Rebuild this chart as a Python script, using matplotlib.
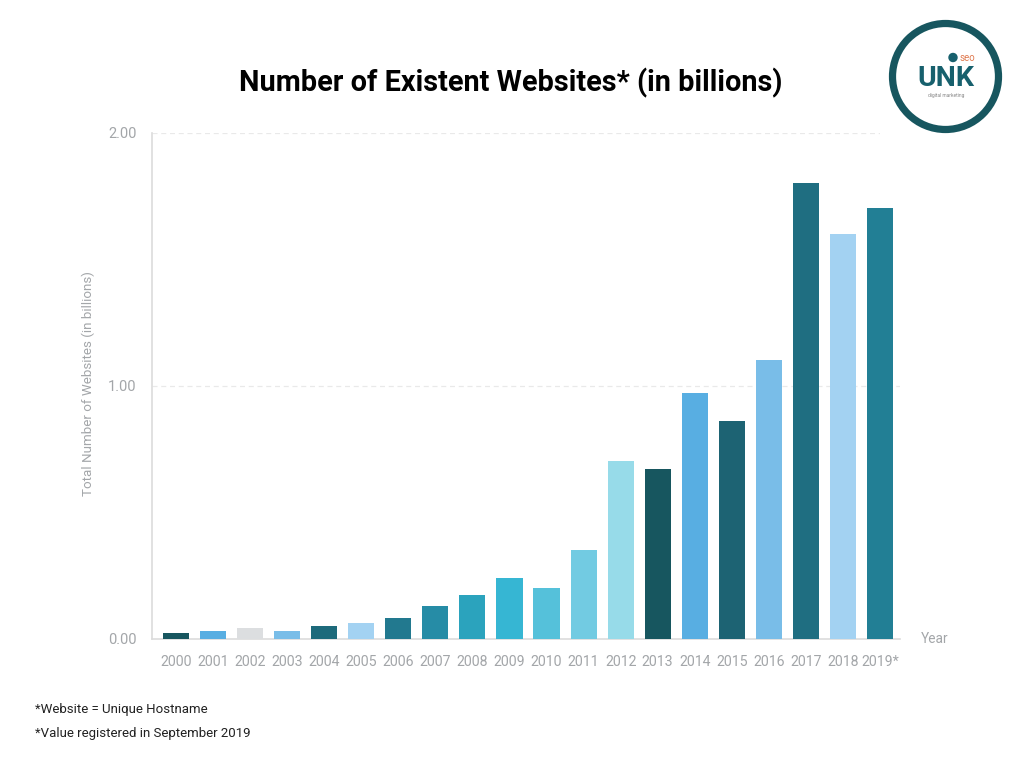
import matplotlib
matplotlib.use("Agg")
import matplotlib.pyplot as plt
from matplotlib.patches import Circle

years = ["2000","2001","2002","2003","2004","2005","2006","2007","2008","2009",
         "2010","2011","2012","2013","2014","2015","2016","2017","2018","2019*"]
values = [0.02,0.03,0.04,0.03,0.05,0.06,0.08,0.13,0.17,0.24,
          0.20,0.35,0.70,0.67,0.97,0.86,1.10,1.80,1.60,1.70]
colors = ["#17565f","#58aee2","#dcdee0","#79bde8","#1d6a7b","#a3d2f2","#22798f","#268ca6",
          "#2ba3bd","#36b6d3","#55c1da","#72cbe2","#97dbe9","#17565f","#58aee2","#1d6373",
          "#79bde8","#1f6e81","#a3d2f2","#227f95"]
y_ticks = [0, 1, 2]
y_labels = ["0.00", "1.00", "2.00"]

plt.rcParams["font.family"] = ["Roboto", "DejaVu Sans"]

W, H = 1024, 768
fig = plt.figure(figsize=(W/100, H/100), dpi=100, facecolor="white")
def rect(l, t, r, b):
    return [l/W, 1-b/H, (r-l)/W, (b-t)/H]

ax = fig.add_axes(rect(152, 132.5, 900, 638.5))
ax.bar(range(len(values)), values, width=0.705, color=colors, zorder=3)
ax.set_xlim(-0.648, 19.54)
ax.set_ylim(0, 2)
ax.set_yticks(y_ticks, y_labels)
ax.set_xticks(range(len(years)), years)
ax.grid(axis="y", color="#e9e9e9", lw=0.9, ls=(0, (4, 3)), zorder=0)
for s in ("top", "right"):
    ax.spines[s].set_visible(False)
for s in ("left", "bottom"):
    ax.spines[s].set_color("#dcdcdc")
    ax.spines[s].set_linewidth(1.2)
ax.tick_params(axis="x", length=0, pad=12, labelsize=10.2, labelcolor="#a3a6a9")
ax.tick_params(axis="y", length=0, pad=11, labelsize=10.5, labelcolor="#a3a6a9")
ax.set_ylabel("Total Number of Websites (in billions)", fontsize=9.6, color="#a3a6a9")
ax.yaxis.set_label_coords((95-152)/748, (638.5-384)/506)
fig.text(921/W, 1-639/H, "Year", fontsize=9.8, color="#a3a6a9", va="center", ha="left")

fig.text(511/W, 1-83/H, "Number of Existent Websites* (in billions)", fontsize=20.8, fontweight="bold",
         color="#000000", ha="center", va="center")
fig.text(35/W, 1-710/H, "*Website = Unique Hostname", fontsize=9.5, color="#222222", va="center")
fig.text(35/W, 1-733/H, "*Value registered in September 2019", fontsize=9.5, color="#222222", va="center")

# logo
la = fig.add_axes(rect(880, 10, 1010, 140), facecolor="white", zorder=5)
la.set_xlim(880, 1010); la.set_ylim(140, 10); la.axis("off")
la.add_patch(plt.Rectangle((880, 10), 130, 130, color="white"))
la.add_patch(Circle((945.5, 76.5), 53, fill=False, ec="#17565f", lw=5.2))
la.text(945.5, 78, "UNK", fontsize=20.5, fontweight="bold", color="#17606d", ha="center", va="center")
la.add_patch(Circle((953, 57.5), 4, color="#17606d"))
la.text(967, 58, "seo", fontsize=7, color="#e07a50", ha="center", va="center")
la.text(946, 96, "digital marketing", fontsize=3.5, color="#888888", ha="center", va="center")

fig.savefig("out.png", dpi=100)
